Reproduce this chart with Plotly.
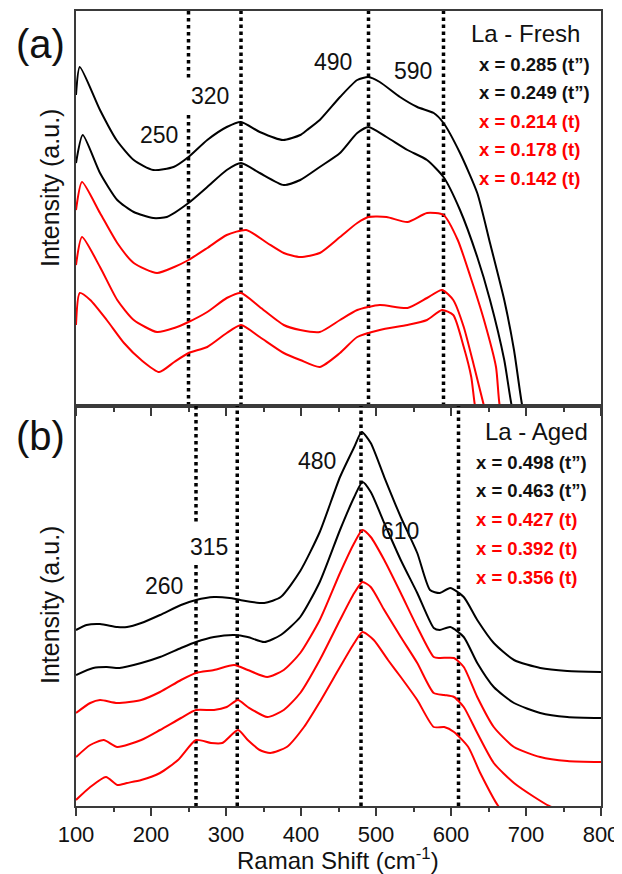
import plotly.graph_objects as go

# ---------------- data ----------------
# Panel (a): La - Fresh  (intensity in arbitrary units, stacked)
fresh_x_1 = [100, 105, 132, 154, 177, 203, 230, 250, 275, 301, 320, 345, 376, 399, 408, 425, 452, 475, 490, 505, 532, 555, 577, 590, 612, 635, 652, 671, 684, 695, 710]
fresh_y_1 = [311, 339, 296, 266, 246, 236, 239, 249, 266, 279, 284, 274, 266, 271, 276, 286, 309, 326, 329, 324, 309, 299, 293, 283, 253, 213, 163, 106, 56, 0, -50]

fresh_x_2 = [100, 109, 132, 155, 177, 203, 221, 250, 275, 301, 320, 345, 377, 399, 425, 452, 475, 490, 514, 542, 568, 590, 612, 635, 652, 671, 681, 695]
fresh_y_2 = [243, 271, 233, 206, 194, 188, 189, 203, 219, 236, 243, 233, 221, 226, 239, 253, 273, 279, 269, 256, 246, 229, 196, 149, 106, 46, 0, -40]

fresh_x_3 = [100, 108, 132, 155, 177, 208, 231, 250, 275, 301, 327, 355, 377, 399, 425, 452, 475, 490, 514, 542, 568, 590, 609, 626, 644, 660, 665, 680]
fresh_y_3 = [196, 224, 193, 163, 143, 133, 139, 146, 158, 171, 176, 163, 153, 149, 153, 169, 183, 189, 189, 184, 193, 191, 166, 129, 86, 39, 0, -40]

fresh_x_4 = [100, 108, 132, 155, 177, 208, 231, 250, 275, 301, 320, 345, 377, 399, 425, 452, 475, 505, 542, 568, 588, 603, 617, 631, 644, 655]
fresh_y_4 = [141, 169, 139, 106, 86, 74, 78, 84, 94, 108, 113, 99, 81, 76, 74, 86, 96, 101, 98, 108, 116, 106, 79, 39, 0, -30]

fresh_x_5 = [100, 105, 119, 141, 164, 187, 211, 231, 250, 275, 301, 320, 345, 377, 399, 425, 452, 475, 505, 542, 568, 588, 603, 617, 627, 632, 640]
fresh_y_5 = [81, 113, 106, 86, 63, 46, 34, 44, 53, 59, 73, 81, 69, 53, 46, 39, 53, 69, 76, 81, 86, 96, 91, 59, 29, 0, -25]

fresh_labels = ["x = 0.285 (t\u201d)", "x = 0.249 (t\u201d)", "x = 0.214 (t)", "x = 0.178 (t)", "x = 0.142 (t)"]
fresh_peaks = [250, 320, 490, 590]

# Panel (b): La - Aged
aged_x_1 = [100, 114, 132, 155, 168, 187, 212, 240, 260, 284, 305, 319, 351, 373, 399, 425, 452, 471, 481, 493, 511, 533, 555, 572, 585, 599, 617, 635, 657, 684, 719, 755, 800]
aged_y_1 = [176, 181, 182, 179, 179, 183, 191, 201, 206, 209, 208, 206, 203, 209, 235, 274, 329, 359, 374, 363, 329, 289, 253, 216, 213, 218, 209, 186, 163, 146, 138, 135, 134]

aged_x_2 = [100, 123, 141, 158, 187, 212, 240, 260, 284, 311, 329, 351, 373, 399, 425, 452, 471, 482, 493, 511, 533, 555, 577, 585, 599, 617, 635, 657, 684, 719, 755, 800]
aged_y_2 = [131, 138, 139, 138, 143, 149, 158, 164, 169, 171, 169, 164, 171, 189, 224, 276, 309, 324, 314, 283, 246, 213, 178, 176, 179, 169, 143, 119, 103, 93, 89, 88]

aged_x_3 = [100, 119, 132, 155, 187, 212, 240, 260, 284, 311, 329, 355, 377, 399, 425, 452, 471, 482, 493, 511, 533, 555, 577, 585, 604, 617, 635, 657, 684, 719, 755, 800]
aged_y_3 = [93, 103, 106, 103, 106, 114, 126, 133, 136, 141, 136, 129, 136, 153, 186, 233, 263, 276, 269, 246, 213, 179, 149, 148, 148, 139, 109, 79, 59, 49, 45, 44]

aged_x_4 = [100, 119, 137, 155, 187, 212, 240, 260, 284, 301, 316, 329, 355, 377, 399, 425, 452, 471, 482, 493, 511, 533, 555, 577, 591, 604, 617, 635, 657, 684, 711, 731, 760]
aged_y_4 = [49, 61, 66, 59, 66, 76, 88, 96, 96, 99, 106, 99, 89, 96, 113, 146, 186, 213, 224, 219, 196, 169, 143, 113, 111, 109, 99, 73, 43, 23, 9, 0, -8]

aged_x_5 = [100, 119, 140, 155, 168, 187, 212, 236, 260, 280, 295, 316, 329, 345, 359, 381, 404, 425, 452, 471, 482, 497, 516, 533, 555, 577, 591, 604, 623, 639, 663, 690]
aged_y_5 = [6, 19, 29, 21, 23, 26, 33, 46, 66, 63, 63, 76, 66, 56, 53, 59, 79, 104, 139, 163, 174, 166, 146, 129, 106, 79, 79, 74, 59, 33, 0, -20]

aged_labels = ["x = 0.498 (t\u201d)", "x = 0.463 (t\u201d)", "x = 0.427 (t)", "x = 0.392 (t)", "x = 0.356 (t)"]
aged_peaks = [260, 315, 480, 610]

series_colors = ["#000000", "#000000", "#ff0000", "#ff0000", "#ff0000"]

# ---------------- figure ----------------
FONT = "Arial, Liberation Sans, sans-serif"
AX = "#3a3a3a"

# The page body has an 8px default margin, so the figure is drawn 8px smaller
# and every reference pixel position is shifted by that offset.
OFF = 8
WIN_W, WIN_H = 622, 874
W, H = WIN_W - OFF, WIN_H - OFF
# plot area in reference pixels: x 76..601, y 11..806 ; panel split at y=406
L, R, T, B = 76, 601, 11, 806
split = (B - 406) / (B - T)


def pxx(px):
    return (px - L) / (R - L)


def pxy(py):
    return (B - py) / (B - T)


fig = go.Figure()

fresh = [(fresh_x_1, fresh_y_1), (fresh_x_2, fresh_y_2), (fresh_x_3, fresh_y_3),
         (fresh_x_4, fresh_y_4), (fresh_x_5, fresh_y_5)]
aged = [(aged_x_1, aged_y_1), (aged_x_2, aged_y_2), (aged_x_3, aged_y_3),
        (aged_x_4, aged_y_4), (aged_x_5, aged_y_5)]

TOP_MAX = 395
BOT_MAX = 400

# dotted reference lines
dot = dict(color="black", width=3.5, dash="3.5px,3.5px")
for p in fresh_peaks:
    if p == 250:
        xs, ys = [p, p, None, p, p], [TOP_MAX, 328, None, 291, 0]
    else:
        xs, ys = [p, p], [0, TOP_MAX]
    fig.add_trace(go.Scatter(x=xs, y=ys, mode="lines", line=dot, xaxis="x", yaxis="y",
                             showlegend=False, hoverinfo="skip"))
for p in aged_peaks:
    if p == 260:
        xs, ys = [p, p, None, p, p], [BOT_MAX, 281, None, 241, 0]
    else:
        xs, ys = [p, p], [0, BOT_MAX]
    fig.add_trace(go.Scatter(x=xs, y=ys, mode="lines", line=dot, xaxis="x2", yaxis="y2",
                             showlegend=False, hoverinfo="skip"))

for (xs, ys), c, name in zip(fresh, series_colors, fresh_labels):
    fig.add_trace(go.Scatter(x=xs, y=ys, mode="lines", name=name,
                             line=dict(color=c, width=2, shape="spline", smoothing=0.6),
                             xaxis="x", yaxis="y", showlegend=False))
for (xs, ys), c, name in zip(aged, series_colors, aged_labels):
    fig.add_trace(go.Scatter(x=xs, y=ys, mode="lines", name=name,
                             line=dict(color=c, width=2, shape="spline", smoothing=0.6),
                             xaxis="x2", yaxis="y2", showlegend=False))

xcommon = dict(range=[100, 800], showline=True, linecolor=AX, linewidth=1.5, mirror=True,
               ticks="outside", ticklen=8, tickwidth=1.5, tickcolor=AX,
               tickmode="linear", tick0=100, dtick=100,
               minor=dict(ticks="outside", ticklen=4, tickwidth=1.5, tickcolor=AX, dtick=50),
               showgrid=False, zeroline=False, automargin=False)
ycommon = dict(showline=True, linecolor=AX, linewidth=1.5, mirror=True, ticks="",
               showticklabels=False, showgrid=False, zeroline=False, automargin=False)

fig.update_layout(
    width=W, height=H,
    margin=dict(l=L - OFF, r=W - (R - OFF), t=T - OFF, b=H - (B - OFF)),
    paper_bgcolor="white", plot_bgcolor="white",
    font=dict(family=FONT, color="black"),
    showlegend=False,
    xaxis=dict(xcommon, anchor="y", domain=[0, 1], showticklabels=False),
    yaxis=dict(ycommon, range=[0, TOP_MAX], domain=[split, 1]),
    xaxis2=dict(xcommon, anchor="y2", domain=[0, 1], showticklabels=True,
                tickfont=dict(size=22, family=FONT, color="#111")),
    yaxis2=dict(ycommon, range=[0, BOT_MAX], domain=[0, split]),
)

ann = []


def text(x, y, s, size, xref="paper", yref="paper", **kw):
    color = kw.pop("color", "#111")
    d = dict(x=x, y=y, text=s, xref=xref, yref=yref, showarrow=False,
             xanchor="center", yanchor="middle",
             font=dict(size=size, family=FONT, color=color))
    d.update(kw)
    ann.append(d)


# panel letters
text(pxx(40), pxy(44), "(a)", 40)
text(pxx(40), pxy(436), "(b)", 40)
# y titles
text(pxx(50), pxy(188), "Intensity (a.u.)", 25, textangle=-90)
text(pxx(50), pxy(605), "Intensity (a.u.)", 25, textangle=-90)
# x title
text(pxx(338), pxy(859), "Raman Shift (cm<sup>-1</sup>)", 24)

# peak labels (data coordinates)
text(210.7, 271, "250", 23, "x", "y")
text(278.7, 310, "320", 23, "x", "y")
text(442.7, 344, "490", 23, "x", "y")
text(549.0, 335, "590", 23, "x", "y")
text(217.3, 220, "260", 23, "x2", "y2")
text(277.0, 259, "315", 23, "x2", "y2")
text(421.0, 345, "480", 23, "x2", "y2")
text(532.0, 275, "610", 23, "x2", "y2")

# panel titles and series labels
text(pxx(525), pxy(34), "La - Fresh", 24)
text(pxx(536), pxy(431), "La - Aged", 24)
fresh_ys = [65, 93, 122, 150, 179]
aged_ys = [462, 490, 519, 548, 577]
for s, c, py in zip(fresh_labels, series_colors, fresh_ys):
    text(pxx(477), pxy(py), "<b>%s</b>" % s, 18.5, xanchor="left",
         color=("#111" if c == "#000000" else c))
for s, c, py in zip(aged_labels, series_colors, aged_ys):
    text(pxx(474), pxy(py), "<b>%s</b>" % s, 18.5, xanchor="left",
         color=("#111" if c == "#000000" else c))

fig.update_layout(annotations=ann)
fig.write_html("out.html")
